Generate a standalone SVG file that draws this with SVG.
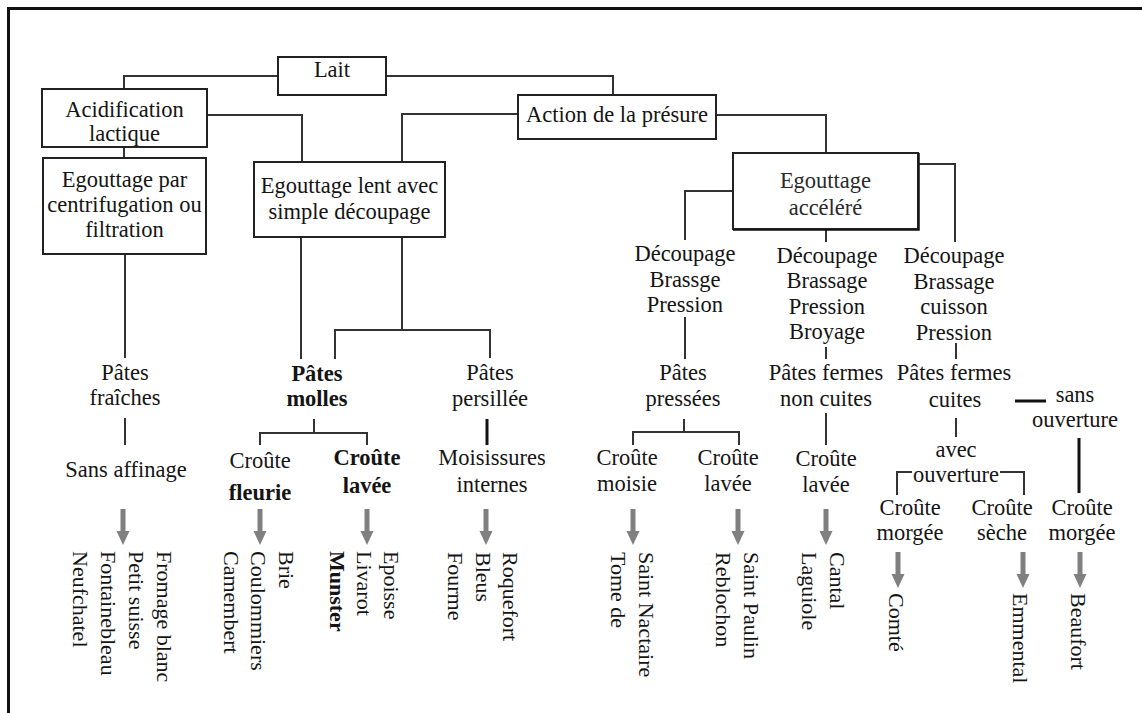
<svg xmlns="http://www.w3.org/2000/svg" xmlns:xlink="http://www.w3.org/1999/xlink" width="1142" height="713" viewBox="0 0 1142 713">
  <style>
    text { font-family: "Liberation Serif", "Times New Roman", serif; font-size: 22.5px; fill: #141414; }
    .c { text-anchor: middle; }
    .b { font-weight: bold; }
    .v { font-size: 22px; }
    .box { fill: #ffffff; stroke: #222222; stroke-width: 2; }
    .ln { fill: none; stroke: #333333; stroke-width: 2; }
    .thk { fill: none; stroke: #111111; stroke-width: 3; }
    .frame { fill: none; stroke: #111111; stroke-width: 3; }
  </style>
  <defs>
    <!-- grey block arrow, tip at the bottom -->
    <path id="arrow" d="M-2.5,0 H2.5 V22 H6.5 L0,36 L-6.5,22 H-2.5 Z" fill="#808080"/>
  </defs>

  <rect width="1142" height="713" fill="#ffffff"/>
  <!-- page frame (top and left edges) -->
  <path class="frame" d="M8.5,713 V8.5 H1142"/>

  <!-- connectors -->
  <g id="connectors">
    <path class="ln" d="M278,76 H124 V89"/>
    <path class="ln" d="M386,76 H613 V95"/>
    <path class="ln" d="M124,147 V158"/>
    <path class="ln" d="M207,115 H302 V162"/>
    <path class="ln" d="M518,114 H402 V162"/>
    <path class="ln" d="M716,115 H826 V153"/>
    <path class="ln" d="M733,191 H685 V240"/>
    <path class="ln" d="M826,229 V242"/>
    <path class="ln" d="M918,164 H955 V242"/>
    <path class="ln" d="M125,254 V358"/>
    <path class="ln" d="M125,418 V445"/>
    <path class="ln" d="M301,237 V359"/>
    <path class="ln" d="M402,237 V330"/>
    <path class="ln" d="M335,359 V330 H490 V358"/>
    <path class="ln" d="M314,419 V433"/>
    <path class="ln" d="M260,445 V433 H367 V445"/>
    <path class="thk" d="M487,419 V445"/>
    <path class="ln" d="M685,317 V359"/>
    <path class="ln" d="M684,419 V432"/>
    <path class="ln" d="M633,445 V432 H739 V445"/>
    <path class="ln" d="M826,347 V359"/>
    <path class="ln" d="M826,413 V445"/>
    <path class="ln" d="M956,343 V359"/>
    <path class="ln" d="M956,418 V437"/>
    <path class="ln" d="M897,495 V472 H912"/>
    <path class="ln" d="M1000,472 H1024 V495"/>
    <path class="thk" d="M1015,401 H1046"/>
    <path class="thk" d="M1079,438 V493"/>
    <!-- arrows to cheese lists -->
    <use xlink:href="#arrow" x="123" y="509"/>
    <use xlink:href="#arrow" x="260" y="509"/>
    <use xlink:href="#arrow" x="367" y="509"/>
    <use xlink:href="#arrow" x="486" y="509"/>
    <use xlink:href="#arrow" x="633" y="509"/>
    <use xlink:href="#arrow" x="738" y="509"/>
    <use xlink:href="#arrow" x="826" y="509"/>
    <use xlink:href="#arrow" x="898" y="552"/>
    <use xlink:href="#arrow" x="1023" y="552"/>
    <use xlink:href="#arrow" x="1080" y="552"/>
  </g>

  <!-- boxed steps -->
  <g id="lait">
    <rect class="box" x="278" y="57" width="108" height="38"/>
    <text class="c" x="332" y="77">Lait</text>
  </g>
  <g id="acidification">
    <rect class="box" x="42" y="89" width="165" height="58"/>
    <text class="c" x="124.5" y="117">Acidification</text>
    <text class="c" x="124.5" y="141">lactique</text>
  </g>
  <g id="egouttage-centrifugation">
    <rect class="box" x="43" y="158" width="163" height="96"/>
    <text class="c" x="124.5" y="187">Egouttage par</text>
    <text class="c" x="124.5" y="212">centrifugation ou</text>
    <text class="c" x="124.5" y="237">filtration</text>
  </g>
  <g id="egouttage-lent">
    <rect class="box" x="254" y="162" width="191" height="75"/>
    <text class="c" x="349.5" y="193">Egouttage lent avec</text>
    <text class="c" x="349.5" y="219">simple découpage</text>
  </g>
  <g id="presure">
    <rect class="box" x="518" y="95" width="198" height="44"/>
    <text class="c" x="617" y="122">Action de la présure</text>
  </g>
  <g id="egouttage-accelere">
    <rect class="box" x="733" y="153" width="185" height="76"/>
    <path d="M733,230 H919 V153" fill="none" stroke="#111111" stroke-width="1.5"/>
    <text class="c" x="825.5" y="188" style="fill:#2a2a2a">Egouttage</text>
    <text class="c" x="825.5" y="215" style="fill:#2a2a2a">accéléré</text>
  </g>

  <!-- treatments -->
  <g id="traitement-presse">
    <text class="c" x="685" y="261">Découpage</text>
    <text class="c" x="685" y="287">Brassge</text>
    <text class="c" x="685" y="312">Pression</text>
  </g>
  <g id="traitement-non-cuit">
    <text class="c" x="827" y="263">Découpage</text>
    <text class="c" x="827" y="288">Brassage</text>
    <text class="c" x="827" y="314">Pression</text>
    <text class="c" x="827" y="339">Broyage</text>
  </g>
  <g id="traitement-cuit">
    <text class="c" x="954" y="263">Découpage</text>
    <text class="c" x="954" y="289">Brassage</text>
    <text class="c" x="954" y="314">cuisson</text>
    <text class="c" x="954" y="340">Pression</text>
  </g>

  <!-- cheese families -->
  <g id="pates-fraiches">
    <text class="c" x="125" y="380">Pâtes</text>
    <text class="c" x="125" y="405">fraîches</text>
  </g>
  <g id="sans-affinage">
    <text class="c" x="126" y="477">Sans affinage</text>
  </g>
  <g id="pates-molles">
    <text class="c b" x="317" y="381">Pâtes</text>
    <text class="c b" x="317" y="406">molles</text>
  </g>
  <g id="croute-fleurie">
    <text class="c" x="260" y="468">Croûte</text>
    <text class="c b" x="260" y="500">fleurie</text>
  </g>
  <g id="croute-lavee-molle">
    <text class="c b" x="367" y="465">Croûte</text>
    <text class="c b" x="367" y="493">lavée</text>
  </g>
  <g id="pates-persillee">
    <text class="c" x="490" y="380">Pâtes</text>
    <text class="c" x="490" y="406">persillée</text>
  </g>
  <g id="moisissures">
    <text class="c" x="492" y="465">Moisissures</text>
    <text class="c" x="492" y="492">internes</text>
  </g>
  <g id="pates-pressees">
    <text class="c" x="683" y="380">Pâtes</text>
    <text class="c" x="683" y="406">pressées</text>
  </g>
  <g id="croute-moisie">
    <text class="c" x="627" y="465">Croûte</text>
    <text class="c" x="627" y="491">moisie</text>
  </g>
  <g id="croute-lavee-pressee">
    <text class="c" x="728" y="465">Croûte</text>
    <text class="c" x="728" y="491">lavée</text>
  </g>
  <g id="pates-fermes-non-cuites">
    <text class="c" x="826" y="380">Pâtes fermes</text>
    <text class="c" x="826" y="406">non cuites</text>
  </g>
  <g id="croute-lavee-ferme">
    <text class="c" x="826" y="466">Croûte</text>
    <text class="c" x="826" y="492">lavée</text>
  </g>
  <g id="pates-fermes-cuites">
    <text class="c" x="954" y="380">Pâtes fermes</text>
    <text class="c" x="955" y="407">cuites</text>
  </g>
  <g id="avec-ouverture">
    <text class="c" x="956" y="457">avec</text>
    <text class="c" x="956" y="482">ouverture</text>
  </g>
  <g id="sans-ouverture">
    <text class="c" x="1075" y="402">sans</text>
    <text class="c" x="1075" y="427">ouverture</text>
  </g>
  <g id="croute-morgee-1">
    <text class="c" x="910" y="515">Croûte</text>
    <text class="c" x="910" y="540">morgée</text>
  </g>
  <g id="croute-seche">
    <text class="c" x="1002" y="515">Croûte</text>
    <text class="c" x="1002" y="540">sèche</text>
  </g>
  <g id="croute-morgee-2">
    <text class="c" x="1082" y="515">Croûte</text>
    <text class="c" x="1082" y="540">morgée</text>
  </g>

  <!-- cheese names, written top to bottom -->
  <g id="liste-fraiches">
    <text class="v" transform="translate(157,551) rotate(90)">Fromage blanc</text>
    <text class="v" transform="translate(129,551) rotate(90)">Petit suisse</text>
    <text class="v" transform="translate(101,551) rotate(90)">Fontainebleau</text>
    <text class="v" transform="translate(73,551) rotate(90)">Neufchatel</text>
  </g>
  <g id="liste-fleurie">
    <text class="v" transform="translate(279,551) rotate(90)">Brie</text>
    <text class="v" transform="translate(251,551) rotate(90)">Coulommiers</text>
    <text class="v" transform="translate(224,551) rotate(90)">Camembert</text>
  </g>
  <g id="liste-lavee-molle">
    <text class="v" transform="translate(384,551) rotate(90)">Epoisse</text>
    <text class="v" transform="translate(357,551) rotate(90)">Livarot</text>
    <text class="v b" transform="translate(330,551) rotate(90)">Munster</text>
  </g>
  <g id="liste-persillee">
    <text class="v" transform="translate(503,552) rotate(90)">Roquefort</text>
    <text class="v" transform="translate(476,552) rotate(90)">Bleus</text>
    <text class="v" transform="translate(448,552) rotate(90)">Fourme</text>
  </g>
  <g id="liste-moisie">
    <text class="v" transform="translate(639,552) rotate(90)">Saint Nactaire</text>
    <text class="v" transform="translate(611,552) rotate(90)">Tome de</text>
  </g>
  <g id="liste-lavee-pressee">
    <text class="v" transform="translate(744,552) rotate(90)">Saint Paulin</text>
    <text class="v" transform="translate(716,552) rotate(90)">Reblochon</text>
  </g>
  <g id="liste-non-cuite">
    <text class="v" transform="translate(830,552) rotate(90)">Cantal</text>
    <text class="v" transform="translate(802,552) rotate(90)">Laguiole</text>
  </g>
  <g id="liste-cuite">
    <text class="v" transform="translate(889,593) rotate(90)">Comté</text>
    <text class="v" transform="translate(1013,593) rotate(90)">Emmental</text>
    <text class="v" transform="translate(1071,593) rotate(90)">Beaufort</text>
  </g>
</svg>
